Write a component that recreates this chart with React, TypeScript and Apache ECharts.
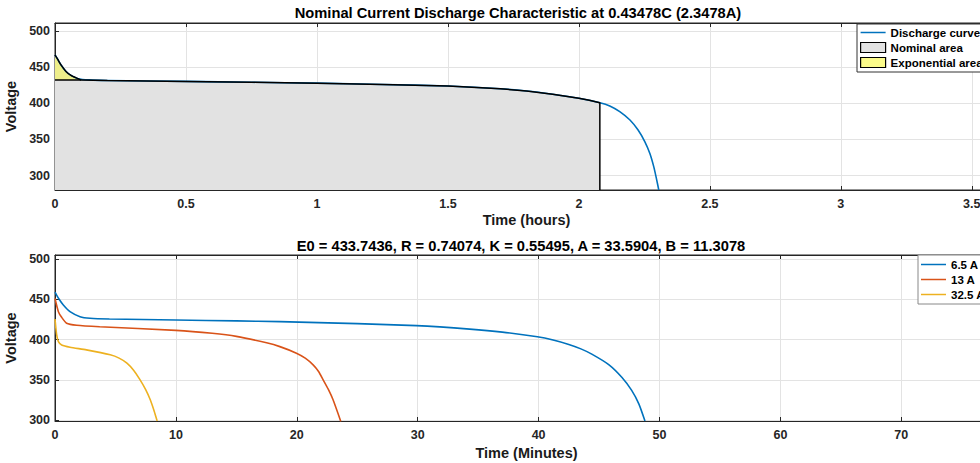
import React, { useEffect, useRef } from 'react';
import * as echarts from 'echarts';

const FONT = '"Liberation Sans", Arial, Helvetica, sans-serif';

// ---------- Top chart (hours) ----------
const dischargeHours = [0, 0.01, 0.023, 0.042, 0.061, 0.088, 0.13, 0.2, 0.5, 0.75, 1.0, 1.25, 1.5, 1.7, 1.8, 1.9, 2.0, 2.08, 2.118, 2.156, 2.195, 2.226, 2.252, 2.271, 2.286, 2.296, 2.305];
const dischargeVolts = [467, 461, 453, 444, 438.5, 434, 432.3, 431.5, 430.2, 429, 427.8, 426, 423.8, 420, 417, 412.5, 407, 400.8, 396.3, 388.4, 376.8, 362.9, 346.7, 330.5, 312, 295.8, 280];

const nominalHours = [0, 0.1, 0.2, 0.5, 0.75, 1.0, 1.25, 1.5, 1.7, 1.8, 1.9, 2.0, 2.04, 2.08, 2.08];
const nominalVolts = [432, 432, 431.5, 430.2, 429, 427.8, 426, 423.8, 420, 417, 412.5, 407, 404.1, 400.8, 280];

const expHours = [0, 0.01, 0.023, 0.042, 0.061, 0.088, 0.1];
const expVolts = [467, 461, 453, 444, 438.5, 434, 432];
const expBaseVolt = 432;

const hourTicksMax = 3.6;

// ---------- Bottom chart (minutes) ----------
const min65 = [0, 0.3, 0.69, 1.24, 2.07, 2.9, 4.5, 10, 15, 18.6, 25, 29.9, 34.3, 37, 39.9, 41.2, 42.5, 43.5, 44.4, 45.8, 46.9, 47.7, 48.3, 48.8];
const volt65 = [459, 451, 443, 434.7, 428.5, 426.5, 425.6, 424.3, 423.2, 422.3, 419.8, 417.3, 413, 409.3, 403.5, 399.5, 394, 388.5, 382, 369, 353, 337, 320, 299];

const min13 = [0, 0.28, 0.55, 0.96, 1.8, 3.7, 10, 13, 15, 17.5, 18.6, 19.97, 20.7, 21.35, 21.8, 22.18, 22.6, 23.0, 23.64];
const volt13 = [451, 434.7, 427.7, 420.3, 417.8, 416, 411.5, 407.8, 404, 396, 391.3, 383.2, 377, 368.7, 360.5, 350.1, 338.5, 325.4, 298.5];

const min325 = [0, 0.14, 0.28, 0.55, 1.24, 2.6, 4.57, 5.3, 5.95, 6.5, 7.0, 7.5, 7.88, 8.2, 8.45];
const volt325 = [425.6, 405.8, 397.5, 393.4, 390.6, 387.3, 381.1, 377, 370.8, 362, 351, 338, 325.4, 311.5, 299];

const zip = (xs: number[], ys: number[]) => xs.map((x, i) => [x, ys[i]]);

const tickLabel = { color: '#262626', fontFamily: FONT, fontWeight: 'bold' as const, fontSize: 12.5 };
const nameStyle = { color: '#1a1a1a', fontFamily: FONT, fontWeight: 'bold' as const, fontSize: 14.5 };
const splitLine = { show: true, lineStyle: { color: '#e3e3e3', width: 1 } };
const axisLine = { show: true, lineStyle: { color: '#262626', width: 1 } };
const axisTick = { show: true, inside: true, length: 4, lineStyle: { color: '#262626', width: 1 } };
const fifty = (v: number) => (Math.abs(v % 50) < 1e-6 ? String(v) : '');
const lineIcon = 'path://M0,0H50V3H0Z';

const legendText = { fontFamily: FONT, fontWeight: 'bold' as const, fontSize: 11.5, color: '#000', lineHeight: 15 };

const curve = (name: string, xi: number, yi: number, xs: number[], ys: number[], color: string) => ({
  name, type: 'line', xAxisIndex: xi, yAxisIndex: yi, data: zip(xs, ys),
  symbol: 'none', smooth: 0.2,
  lineStyle: { color, width: 1.6 }, itemStyle: { color },
});

export default function App() {
  const ref = useRef<HTMLDivElement>(null);
  useEffect(() => {
    const chart = echarts.init(ref.current!, null, { renderer: 'svg' });
    chart.setOption({
      animation: false,
      backgroundColor: '#fff',
      grid: [
        { left: 55, top: 23, width: 943, height: 167, show: true, borderColor: '#262626', borderWidth: 1, backgroundColor: '#fff', containLabel: false, outerBoundsMode: 'none' },
        { left: 55, top: 255, width: 943, height: 166, show: true, borderColor: '#262626', borderWidth: 1, backgroundColor: '#fff', containLabel: false, outerBoundsMode: 'none' },
      ],
      xAxis: [
        {
          type: 'value', gridIndex: 0, min: 0, max: hourTicksMax, interval: 0.5,
          axisLine, axisTick, splitLine,
          axisLabel: { ...tickLabel, margin: 7, formatter: (v: number) => (v > 3.5 ? '' : String(v)) },
          name: 'Time (hours)', nameLocation: 'middle', nameGap: 22, nameTextStyle: nameStyle,
        },
        {
          type: 'value', gridIndex: 0, position: 'top', min: 0, max: hourTicksMax, interval: 0.5,
          axisLine, axisTick, splitLine: { show: false }, axisLabel: { show: false },
        },
        {
          type: 'value', gridIndex: 1, min: 0, max: 78, interval: 10,
          axisLine, axisTick, splitLine,
          axisLabel: { ...tickLabel, margin: 7, formatter: (v: number) => (v > 70 ? '' : String(v)) },
          name: 'Time (Minutes)', nameLocation: 'middle', nameGap: 24, nameTextStyle: nameStyle,
        },
        {
          type: 'value', gridIndex: 1, position: 'top', min: 0, max: 78, interval: 10,
          axisLine, axisTick, splitLine: { show: false }, axisLabel: { show: false },
        },
      ],
      yAxis: [
        {
          type: 'value', gridIndex: 0, min: 280, max: 511, splitNumber: 5,
          axisLine, axisTick, splitLine,
          axisLabel: { ...tickLabel, margin: 5, formatter: fifty },
          name: 'Voltage', nameLocation: 'middle', nameGap: 28, nameTextStyle: nameStyle,
        },
        {
          type: 'value', gridIndex: 1, min: 299, max: 505, splitNumber: 5,
          axisLine, axisTick, splitLine,
          axisLabel: { ...tickLabel, margin: 5, formatter: fifty },
          name: 'Voltage', nameLocation: 'middle', nameGap: 28, nameTextStyle: nameStyle,
        },
      ],
      legend: [
        {
          data: [
            { name: 'Discharge curve', icon: lineIcon, itemStyle: { color: '#0072BD', borderWidth: 0 } },
            { name: 'Nominal area', icon: 'rect', itemStyle: { color: '#e2e2e2', borderColor: '#000', borderWidth: 1.2 } },
            { name: 'Exponential area', icon: 'rect', itemStyle: { color: '#fbfb8a', borderColor: '#000', borderWidth: 1.2 } },
          ],
          orient: 'vertical', left: 857, top: 24, itemWidth: 25, itemHeight: 10, itemGap: 0,
          padding: [1, 4, 2, 3], backgroundColor: '#fff', borderColor: '#333', borderWidth: 1, borderRadius: 0,
          selectedMode: false, textStyle: legendText,
        },
        {
          data: [
            { name: '6.5 A', icon: lineIcon, itemStyle: { color: '#0072BD', borderWidth: 0 } },
            { name: '13 A', icon: lineIcon, itemStyle: { color: '#D95319', borderWidth: 0 } },
            { name: '32.5 A', icon: lineIcon, itemStyle: { color: '#EDB120', borderWidth: 0 } },
          ],
          orient: 'vertical', left: 918, top: 255, itemWidth: 25, itemHeight: 10, itemGap: 0,
          padding: [2, 4, 2, 3], backgroundColor: '#fff', borderColor: '#888', borderWidth: 1, borderRadius: 0,
          selectedMode: false, textStyle: legendText,
        },
      ],
      graphic: [
        {
          type: 'text', x: 518, y: 13,
          style: { text: 'Nominal Current Discharge Characteristic at 0.43478C (2.3478A)', fill: '#000', fontFamily: FONT, fontWeight: 'bold', fontSize: 14.7, align: 'center', verticalAlign: 'middle' },
        },
        {
          type: 'text', x: 521, y: 246,
          style: { text: 'E0 = 433.7436, R = 0.74074, K = 0.55495, A = 33.5904, B = 11.3078', fill: '#000', fontFamily: FONT, fontWeight: 'bold', fontSize: 14.7, align: 'center', verticalAlign: 'middle' },
        },
      ],
      series: [
        curve('Discharge curve', 0, 0, dischargeHours, dischargeVolts, '#0072BD'),
        {
          name: 'Nominal area', type: 'line', xAxisIndex: 0, yAxisIndex: 0, data: zip(nominalHours, nominalVolts),
          symbol: 'none', lineStyle: { color: '#000', width: 1.5 }, itemStyle: { color: '#e2e2e2' },
          areaStyle: { color: '#e2e2e2', opacity: 1, origin: 'start' },
        },
        {
          name: 'Exponential area', type: 'line', xAxisIndex: 0, yAxisIndex: 0, data: zip(expHours, expVolts),
          symbol: 'none', smooth: 0.2, lineStyle: { color: '#000', width: 1.5 }, itemStyle: { color: '#eeee8a' },
          areaStyle: { color: '#eeee8a', opacity: 1, origin: expBaseVolt },
        },
        curve('6.5 A', 2, 1, min65, volt65, '#0072BD'),
        curve('13 A', 2, 1, min13, volt13, '#D95319'),
        curve('32.5 A', 2, 1, min325, volt325, '#EDB120'),
      ],
    });
    return () => chart.dispose();
  }, []);
  return <div ref={ref} style={{ position: 'fixed', left: 0, top: 0, width: 980, height: 463, background: '#fff' }} />;
}
